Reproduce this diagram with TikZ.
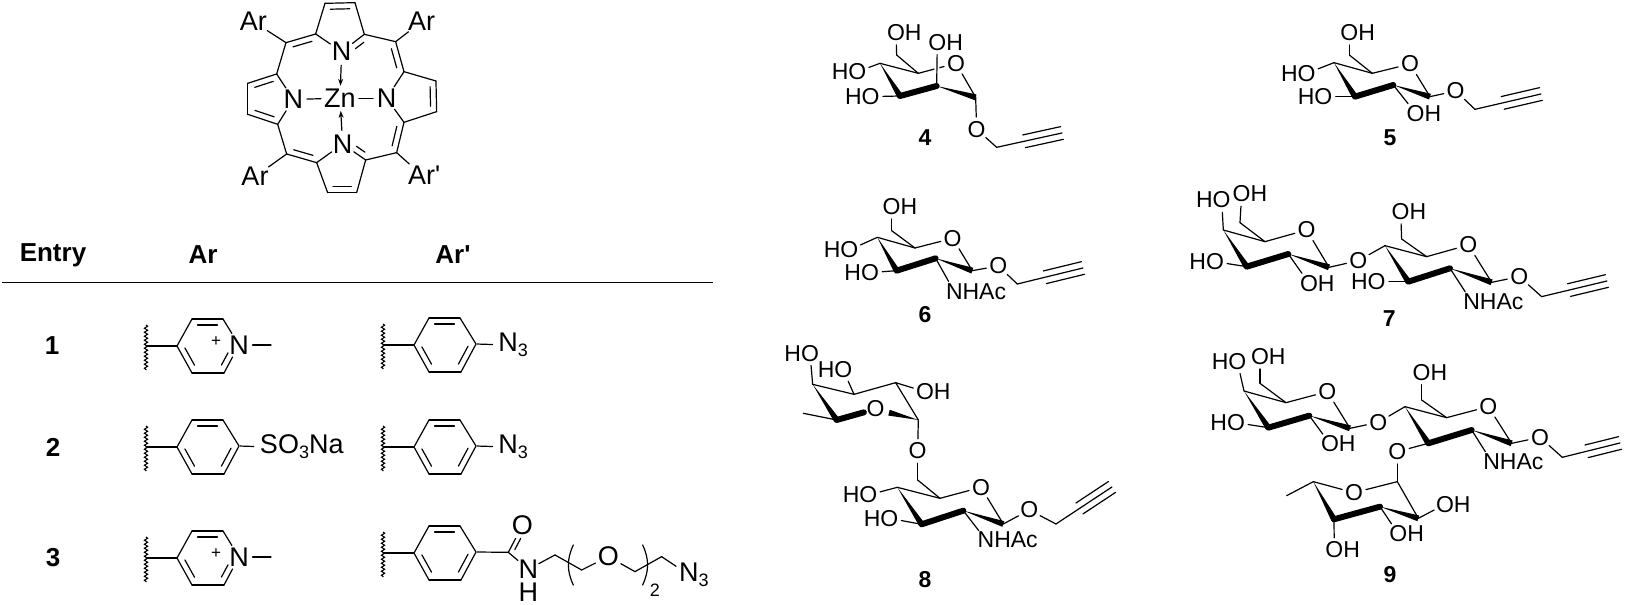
\documentclass[tikz,border=0pt]{standalone}
\usepackage{fontspec}
\setmainfont{Liberation Sans}
\usetikzlibrary{arrows.meta,calc,decorations.pathmorphing}

\tikzset{
	crop/.style 2 args={shift={(#1,#2)},x=0.3333pt,y=-0.3333pt},
	bond/.style={line width=1.2pt,line cap=round,line join=round},
	band/.style={line width=6pt,line cap=round},
	wavy/.style={line width=1.1pt,decorate,decoration={snake,amplitude=1.6pt,segment length=4pt}},
	atom/.style={circle,inner sep=0pt,font=\fontsize{23}{23}\selectfont},
	bigatom/.style={circle,inner sep=0pt,font=\fontsize{27}{27}\selectfont},
	head/.style={inner sep=0pt,font=\bfseries\fontsize{26}{26}\selectfont},
	compound/.style={inner sep=0pt,font=\bfseries\fontsize{23}{23}\selectfont}
}
\newcommand{\sub}[1]{\raisebox{-5pt}{\fontsize{18}{18}\selectfont #1}}
% second line of a double bond; optional argument is where it stops
\newcommand{\innerbond}[4][.82]{\draw[bond] ($(#2)!.18!(#3)!#4!90:(#3)$) -- ($(#2)!#1!(#3)!#4!90:(#3)$);}
\newcommand{\wedgebond}[2]{\fill (#1) -- ($(#2)!3pt!90:(#1)$) -- ($(#2)!3pt!-90:(#1)$) -- cycle;}
\newcommand{\alkyne}[2]{
	\draw[bond] (#1) -- (#2);
	\draw[bond] ($(#1)!.42!(#2)!6.5pt!90:(#2)$) -- ($(#2)!6.5pt!-90:(#1)$);
	\draw[bond] ($(#1)!.42!(#2)!6.5pt!-90:(#2)$) -- ($(#2)!6.5pt!90:(#1)$);
}
% pyranose ring: a,b,c,d,e are carbons, o the ring oxygen
\newcommand{\sugarbonds}[1]{
	\path[bond] (#1_a) edge (#1_b) (#1_b) edge (#1_o) (#1_e) edge (#1_o);
	\wedgebond{#1_a}{#1_c}
	\draw[band] (#1_c) -- (#1_d);
	\wedgebond{#1_d}{#1_e}
}
% aryl group with its wavy cut, r5 is the para position
\newcommand{\aryl}[4]{
	\begin{scope}[shift={(#1,#2)}]
		\coordinate (w_1) at (-31,-21);
		\coordinate (w_2) at (-31,24);
		\coordinate (r_0) at (-31,0);
		\coordinate (r_1) at (0,0);
		\coordinate (r_3) at (15,-27);
		\coordinate (r_4) at (46,-27);
		\coordinate (r_6) at (47,27);
		\coordinate (r_7) at (15,27);
		\node[bigatom] (r_5) at (62,-1) {#3};
		\draw[wavy] (w_1) -- (w_2);
		\path[bond]
		(r_0) edge (r_1)
		(r_1) edge (r_3)
		(r_3) edge (r_4)
		(r_4) edge (r_5)
		(r_5) edge (r_6)
		(r_6) edge (r_7)
		(r_7) edge (r_1);
		\innerbond{r_3}{r_4}{-6pt}
		\innerbond{r_1}{r_7}{6pt}
		\innerbond[#4]{r_6}{r_5}{6pt}
	\end{scope}
}
\newcommand{\pyridinium}[2]{
	\aryl{#1}{#2}{N}{.62}
	\node[font=\fontsize{17}{17}\selectfont,inner sep=0pt] (plus_#2) at (#1+39,#2-4) {+};
	\coordinate (me_#2) at (#1+94,#2-1);
	\draw[bond] (r_5) -- (me_#2);
}
\newcommand{\azidoaryl}[2]{
	\aryl{#1}{#2}{}{.82}
	\node[bigatom] (az_#2) at (#1+94,#2) {N\rlap{\sub{3}}};
	\draw[bond] (r_5) -- (az_#2);
}

\begin{document}
\begin{tikzpicture}[x=1pt,y=-1pt]
	\useasboundingbox (0,0) rectangle (1625,605);

	% porphyrin
	\begin{scope}[crop={200}{0}]
		\node[bigatom] (ar_1) at (160,65) {Ar};
		\node[bigatom] (ar_2) at (665,65) {Ar};
		\node[bigatom] (ar_3) at (165,530) {Ar};
		\node[bigatom] (ar_4) at (665,525) {Ar\rlap{\textquotesingle}};
		\node[bigatom] (n_t) at (425,155) {N};
		\node[bigatom] (n_l) at (280,298) {N};
		\node[bigatom] (n_r) at (560,295) {N};
		\node[bigatom] (n_b) at (428,432) {N};
		\node[inner sep=3pt,font=\fontsize{27}{27}\selectfont] (zn) at (420,295) {Zn};
		\coordinate (a_1) at (375,10);
		\coordinate (a_2) at (465,8);
		\coordinate (a_3) at (493,103);
		\coordinate (a_4) at (347,102);
		\coordinate (m_1) at (258,128);
		\coordinate (m_2) at (587,125);
		\coordinate (m_3) at (260,462);
		\coordinate (m_4) at (590,458);
		\coordinate (b_1) at (230,222);
		\coordinate (b_2) at (143,250);
		\coordinate (b_3) at (143,343);
		\coordinate (b_4) at (233,373);
		\coordinate (c_1) at (350,488);
		\coordinate (c_2) at (383,578);
		\coordinate (c_3) at (470,578);
		\coordinate (c_4) at (497,480);
		\coordinate (d_1) at (612,367);
		\coordinate (d_2) at (710,335);
		\coordinate (d_3) at (708,243);
		\coordinate (d_4) at (612,215);
		\path[bond]
		(ar_1) edge (m_1)
		(ar_2) edge (m_2)
		(ar_3) edge (m_3)
		(ar_4) edge (m_4)
		(m_1) edge (a_4)
		(a_4) edge (a_1)
		(a_1) edge (a_2)
		(a_2) edge (a_3)
		(a_4) edge (n_t)
		(a_3) edge (n_t)
		(a_3) edge (m_2)
		(m_2) edge (d_4)
		(d_4) edge (n_r)
		(d_4) edge (d_3)
		(d_3) edge (d_2)
		(d_2) edge (d_1)
		(d_1) edge (n_r)
		(d_1) edge (m_4)
		(m_4) edge (c_4)
		(c_4) edge (n_b)
		(c_4) edge (c_3)
		(c_3) edge (c_2)
		(c_2) edge (c_1)
		(c_1) edge (n_b)
		(c_1) edge (m_3)
		(m_3) edge (b_4)
		(b_4) edge (n_l)
		(b_4) edge (b_3)
		(b_3) edge (b_2)
		(b_2) edge (b_1)
		(b_1) edge (n_l)
		(b_1) edge (m_1)
		(n_l) edge (zn)
		(zn) edge (n_r);
		\draw[bond,-{Stealth[length=7pt,width=5pt]}] (n_t) -- (zn);
		\draw[bond,-{Stealth[length=7pt,width=5pt]}] (n_b) -- (zn);
		\innerbond{a_1}{a_2}{-6pt}
		\innerbond{m_1}{a_4}{-6pt}
		\innerbond[.55]{a_3}{n_t}{6pt}
		\innerbond{m_2}{d_4}{-6pt}
		\innerbond{d_3}{d_2}{-6pt}
		\innerbond{d_1}{m_4}{-6pt}
		\innerbond[.55]{c_4}{n_b}{-6pt}
		\innerbond{m_3}{c_1}{6pt}
		\innerbond{c_2}{c_3}{6pt}
		\innerbond{b_4}{b_3}{-6pt}
		\innerbond{b_2}{b_1}{-6pt}
	\end{scope}

	% table
	\node[head] (h_entry) at (53,255) {Entry};
	\node[head] (h_ar) at (203,255) {Ar};
	\node[head] (h_arp) at (453,255) {Ar\textquotesingle};
	\coordinate (rule_l) at (2,282);
	\coordinate (rule_r) at (713,282);
	\draw[line width=1pt] (rule_l) -- (rule_r);
	\node[head] (e_1) at (52,346) {1};
	\node[head] (e_2) at (53,447) {2};
	\node[head] (e_3) at (53,558) {3};

	\pyridinium{177}{346}
	\azidoaryl{414}{345}
	\aryl{177}{447}{}{.82}
	\node[bigatom] (so3) at (269,447) {S\rlap{O\sub{3}Na}};
	\draw[bond] (r_5) -- (so3);
	\azidoaryl{414}{447}
	\pyridinium{177}{558}
	\aryl{414}{553}{}{.82}

	% spacer arm of entry 3
	\begin{scope}[crop={340}{290}]
		\coordinate (am_c) at (505,787);
		\node[bigatom] (am_o) at (547,707) {O};
		\node[bigatom,rectangle,inner sep=.5pt] (am_n) at (565,838) {N};
		\node[bigatom,rectangle,inner sep=.5pt] (am_h) at (565,908) {H};
		\coordinate (ch_1) at (645,795);
		\coordinate (ch_2) at (725,840);
		\node[bigatom] (ch_o) at (805,800) {O};
		\coordinate (ch_3) at (885,845);
		\coordinate (ch_4) at (965,800);
		\node[bigatom] (ch_n) at (1047,855) {N\rlap{\sub{3}}};
		\coordinate (br_1) at (700,765);
		\coordinate (br_2) at (700,885);
		\coordinate (br_3) at (908,765);
		\coordinate (br_4) at (908,885);
		\node[inner sep=0pt,font=\fontsize{18}{18}\selectfont] (br_n) at (945,900) {2};
		\path[bond]
		(r_5) edge (am_c)
		(am_c) edge (am_o)
		(am_c) edge (am_n)
		(am_n) edge (ch_1)
		(ch_1) edge (ch_2)
		(ch_2) edge (ch_o)
		(ch_o) edge (ch_3)
		(ch_3) edge (ch_4)
		(ch_4) edge (ch_n)
		(br_1) edge [bend right=25] (br_2)
		(br_3) edge [bend left=25] (br_4);
		\innerbond[.6]{am_c}{am_o}{-4.5pt}
	\end{scope}

	% compound 4
	\begin{scope}[crop={780}{10}]
		\node[atom] (s4_oh6) at (348,68) {O\rlap{H}};
		\node[atom] (s4_oh2) at (472,97) {O\rlap{H}};
		\node[atom] (s4_o) at (528,160) {O};
		\node[atom] (s4_ho4) at (232,185) {\llap{H}O};
		\node[atom] (s4_ho3) at (272,260) {\llap{H}O};
		\node[atom] (s4_og) at (590,358) {O};
		\coordinate (s4_a) at (300,160);
		\coordinate (s4_b) at (415,190);
		\coordinate (s4_c) at (360,258);
		\coordinate (s4_d) at (470,228);
		\coordinate (s4_e) at (587,262);
		\coordinate (s4_f) at (350,135);
		\coordinate (s4_g) at (650,412);
		\coordinate (s4_t) at (846,369);
		\sugarbonds{s4}
		% the upper OH passes in front of the ring bond
		\draw[white,line width=5pt,shorten <=8pt] (s4_d) -- (s4_oh2);
		\path[bond]
		(s4_ho4) edge (s4_a)
		(s4_ho3) edge (s4_c)
		(s4_b) edge (s4_f)
		(s4_f) edge (s4_oh6)
		(s4_d) edge (s4_oh2)
		(s4_e) edge (s4_og)
		(s4_og) edge (s4_g);
		\alkyne{s4_g}{s4_t}
		\node[compound] (cpd_4) at (435,383) {4};
	\end{scope}

	% compound 5
	\begin{scope}[crop={1210}{10}]
		\node[atom] (s5_oh6) at (418,68) {O\rlap{H}};
		\node[atom] (s5_o) at (600,162) {O};
		\node[atom] (s5_ho4) at (290,190) {\llap{H}O};
		\node[atom] (s5_ho3) at (340,260) {\llap{H}O};
		\node[atom] (s5_oh2) at (617,310) {O\rlap{H}};
		\node[atom] (s5_og) at (737,243) {O};
		\coordinate (s5_a) at (372,158);
		\coordinate (s5_b) at (487,190);
		\coordinate (s5_c) at (435,260);
		\coordinate (s5_d) at (550,225);
		\coordinate (s5_e) at (660,260);
		\coordinate (s5_f) at (418,135);
		\coordinate (s5_g) at (795,298);
		\coordinate (s5_t) at (993,252);
		\sugarbonds{s5}
		\path[bond]
		(s5_ho4) edge (s5_a)
		(s5_ho3) edge (s5_c)
		(s5_b) edge (s5_f)
		(s5_f) edge (s5_oh6)
		(s5_d) edge (s5_oh2)
		(s5_e) edge (s5_og)
		(s5_og) edge (s5_g);
		\alkyne{s5_g}{s5_t}
		\node[compound] (cpd_5) at (540,383) {5};
	\end{scope}

	% compound 6
	\begin{scope}[crop={770}{160}]
		\node[atom] (s6_oh6) at (365,140) {O\rlap{H}};
		\node[atom] (s6_o) at (548,235) {O};
		\node[atom] (s6_ho4) at (238,270) {\llap{H}O};
		\node[atom] (s6_ho3) at (300,338) {\llap{H}O};
		\node[atom] (s6_n) at (553,395) {N\rlap{HAc}};
		\node[atom] (s6_og) at (685,318) {O};
		\coordinate (s6_a) at (322,232);
		\coordinate (s6_b) at (435,264);
		\coordinate (s6_c) at (380,332);
		\coordinate (s6_d) at (497,295);
		\coordinate (s6_e) at (607,332);
		\coordinate (s6_f) at (365,212);
		\coordinate (s6_g) at (742,372);
		\coordinate (s6_t) at (939,324);
		\sugarbonds{s6}
		\path[bond]
		(s6_ho4) edge (s6_a)
		(s6_ho3) edge (s6_c)
		(s6_b) edge (s6_f)
		(s6_f) edge (s6_oh6)
		(s6_d) edge (s6_n)
		(s6_e) edge (s6_og)
		(s6_og) edge (s6_g);
		\alkyne{s6_g}{s6_t}
		\node[compound] (cpd_6) at (465,465) {6};
	\end{scope}

	% compound 7
	\begin{scope}[crop={1130}{170}]
		\node[atom] (s7_ho4) at (275,90) {\llap{H}O};
		\node[atom] (s7_oh6) at (335,72) {O\rlap{H}};
		\node[atom] (s7_o) at (530,180) {O};
		\node[atom] (s7_ho3) at (255,275) {\llap{H}O};
		\node[atom] (s7_oh2) at (537,340) {O\rlap{H}};
		\node[atom] (s7_ol) at (685,272) {O};
		\coordinate (s7_a) at (280,180);
		\coordinate (s7_b) at (405,215);
		\coordinate (s7_c) at (350,290);
		\coordinate (s7_d) at (475,252);
		\coordinate (s7_e) at (597,292);
		\coordinate (s7_f) at (330,158);
		\sugarbonds{s7}
		\path[bond]
		(s7_ho4) edge (s7_a)
		(s7_ho3) edge (s7_c)
		(s7_b) edge (s7_f)
		(s7_f) edge (s7_oh6)
		(s7_d) edge (s7_oh2)
		(s7_e) edge (s7_ol);
		\node[atom] (r7_oh6) at (812,125) {O\rlap{H}};
		\node[atom] (r7_o) at (1015,225) {O};
		\node[atom] (r7_ho3) at (740,335) {\llap{H}O};
		\node[atom] (r7_n) at (1025,395) {N\rlap{HAc}};
		\node[atom] (r7_og) at (1168,320) {O};
		\coordinate (r7_a) at (765,227);
		\coordinate (r7_b) at (890,260);
		\coordinate (r7_c) at (835,335);
		\coordinate (r7_d) at (960,295);
		\coordinate (r7_e) at (1085,337);
		\coordinate (r7_f) at (815,207);
		\coordinate (r7_g) at (1235,380);
		\coordinate (r7_t) at (1431,333);
		\sugarbonds{r7}
		\path[bond]
		(s7_ol) edge (r7_a)
		(r7_ho3) edge (r7_c)
		(r7_b) edge (r7_f)
		(r7_f) edge (r7_oh6)
		(r7_d) edge (r7_n)
		(r7_e) edge (r7_og)
		(r7_og) edge (r7_g);
		\alkyne{r7_g}{r7_t}
		\node[compound] (cpd_7) at (778,445) {7};
	\end{scope}

	% compound 8
	\begin{scope}[crop={740}{325}]
		\node[atom] (f8_ho1) at (210,85) {\llap{H}O};
		\node[atom] (f8_ho2) at (310,135) {\llap{H}O};
		\node[atom] (f8_oh) at (555,200) {O\rlap{H}};
		\node[atom] (f8_o) at (407,252) {O};
		\node[atom] (f8_ol) at (533,378) {O};
		\coordinate (f8_a) at (218,178);
		\coordinate (f8_b) at (342,208);
		\coordinate (f8_c) at (467,173);
		\coordinate (f8_d) at (535,285);
		\coordinate (f8_e) at (290,285);
		\coordinate (f8_m) at (190,265);
		\coordinate (f8_w) at (447,263);
		\path[bond]
		(f8_ho1) edge (f8_a)
		(f8_ho2) edge (f8_b)
		(f8_oh) edge (f8_c)
		(f8_a) edge (f8_b)
		(f8_b) edge (f8_c)
		(f8_c) edge (f8_d)
		(f8_e) edge (f8_m)
		(f8_d) edge (f8_ol);
		\wedgebond{f8_a}{f8_e}
		\draw[band] (f8_e) -- (f8_o);
		\wedgebond{f8_d}{f8_w}
		\node[atom] (s8_ho4) at (385,510) {\llap{H}O};
		\node[atom] (s8_ho3) at (448,580) {\llap{H}O};
		\node[atom] (s8_o) at (723,487) {O};
		\node[atom] (s8_n) at (738,645) {N\rlap{HAc}};
		\node[atom] (s8_og) at (868,555) {O};
		\coordinate (s8_a) at (472,487);
		\coordinate (s8_b) at (600,520);
		\coordinate (s8_c) at (545,598);
		\coordinate (s8_d) at (670,557);
		\coordinate (s8_e) at (790,597);
		\coordinate (s8_f) at (533,465);
		\coordinate (s8_g) at (948,597);
		\coordinate (s8_t) at (1116,486);
		\sugarbonds{s8}
		\path[bond]
		(s8_ho4) edge (s8_a)
		(s8_ho3) edge (s8_c)
		(s8_b) edge (s8_f)
		(s8_f) edge (f8_ol)
		(s8_d) edge (s8_n)
		(s8_e) edge (s8_og)
		(s8_og) edge (s8_g);
		\alkyne{s8_g}{s8_t}
		\node[compound] (cpd_8) at (555,765) {8};
	\end{scope}

	% compound 9
	\begin{scope}[crop={1150}{330}]
		\node[atom] (s9_ho4) at (262,95) {\llap{H}O};
		\node[atom] (s9_oh6) at (330,80) {O\rlap{H}};
		\node[atom] (s9_o) at (532,185) {O};
		\node[atom] (s9_ho3) at (258,278) {\llap{H}O};
		\node[atom] (s9_oh2) at (540,342) {O\rlap{H}};
		\node[atom] (s9_ol) at (685,277) {O};
		\coordinate (s9_a) at (282,183);
		\coordinate (s9_b) at (408,218);
		\coordinate (s9_c) at (355,293);
		\coordinate (s9_d) at (478,257);
		\coordinate (s9_e) at (600,295);
		\coordinate (s9_f) at (330,160);
		\sugarbonds{s9}
		\path[bond]
		(s9_ho4) edge (s9_a)
		(s9_ho3) edge (s9_c)
		(s9_b) edge (s9_f)
		(s9_f) edge (s9_oh6)
		(s9_d) edge (s9_oh2)
		(s9_e) edge (s9_ol);
		\node[atom] (r9_oh6) at (815,127) {O\rlap{H}};
		\node[atom] (r9_o) at (1015,230) {O};
		\node[atom] (r9_ox) at (742,365) {O};
		\node[atom] (r9_n) at (1025,395) {N\rlap{HAc}};
		\node[atom] (r9_og) at (1170,322) {O};
		\coordinate (r9_a) at (765,230);
		\coordinate (r9_b) at (890,263);
		\coordinate (r9_c) at (835,340);
		\coordinate (r9_d) at (965,300);
		\coordinate (r9_e) at (1085,340);
		\coordinate (r9_f) at (815,210);
		\coordinate (r9_g) at (1237,382);
		\coordinate (r9_t) at (1410,339);
		\sugarbonds{r9}
		\path[bond]
		(s9_ol) edge (r9_a)
		(r9_ox) edge (r9_c)
		(r9_b) edge (r9_f)
		(r9_f) edge (r9_oh6)
		(r9_d) edge (r9_n)
		(r9_e) edge (r9_og)
		(r9_og) edge (r9_g);
		\alkyne{r9_g}{r9_t}
		\node[atom] (f9_o) at (612,488) {O};
		\node[atom] (f9_oh1) at (885,523) {O\rlap{H}};
		\node[atom] (f9_oh2) at (745,612) {O\rlap{H}};
		\node[atom] (f9_oh3) at (553,660) {O\rlap{H}};
		\coordinate (f9_a) at (490,455);
		\coordinate (f9_m) at (410,497);
		\coordinate (f9_b) at (742,455);
		\coordinate (f9_c) at (552,568);
		\coordinate (f9_d) at (690,530);
		\coordinate (f9_e) at (805,565);
		\path[bond]
		(f9_a) edge (f9_o)
		(f9_o) edge (f9_b)
		(f9_a) edge (f9_m)
		(r9_ox) edge (f9_b)
		(f9_b) edge (f9_e)
		(f9_e) edge (f9_oh1)
		(f9_d) edge (f9_oh2)
		(f9_c) edge (f9_oh3);
		\wedgebond{f9_a}{f9_c}
		\draw[band] (f9_c) -- (f9_d);
		\wedgebond{f9_d}{f9_e}
		\node[compound] (cpd_9) at (720,735) {9};
	\end{scope}
\end{tikzpicture}
\end{document}
